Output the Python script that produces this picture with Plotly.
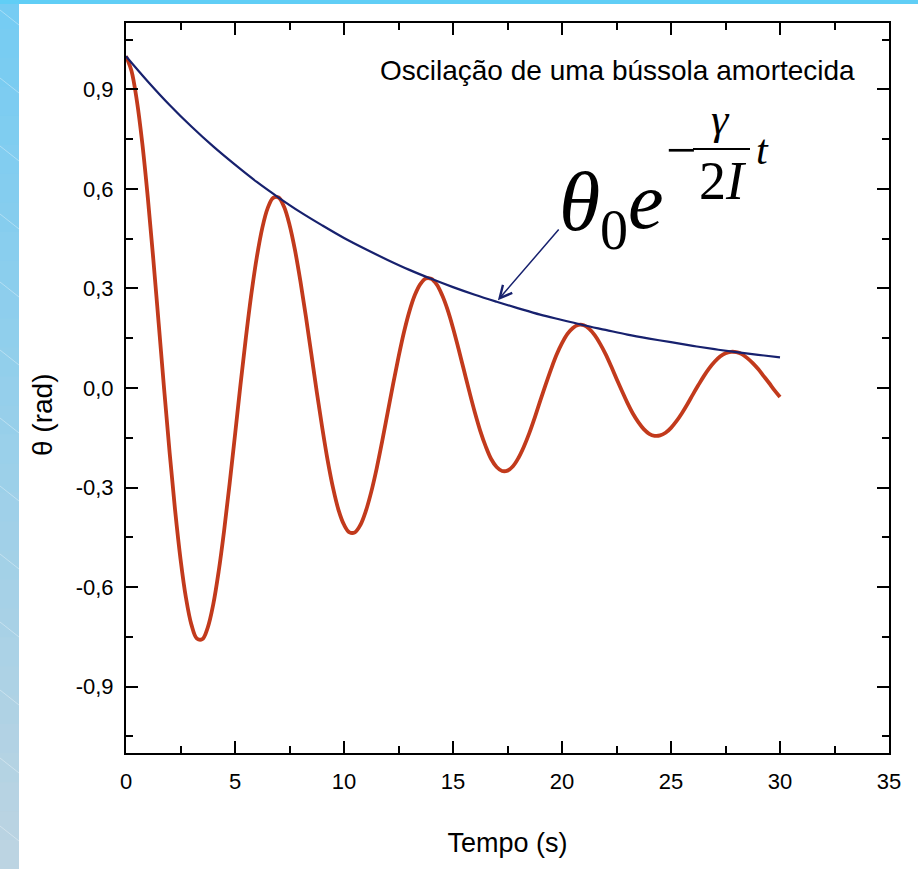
import plotly.graph_objects as go

# ---------------- data ----------------
t_osc = [0.0, 0.25, 0.5, 0.75, 1.0, 1.25, 1.5, 1.75, 2.0, 2.25, 2.5, 2.75, 3.0, 3.25, 3.5, 3.75,
         4.0, 4.25, 4.5, 4.75, 5.0, 5.25, 5.5, 5.75, 6.0, 6.25, 6.5, 6.75, 7.0, 7.25, 7.5, 7.75,
         8.0, 8.25, 8.5, 8.75, 9.0, 9.25, 9.5, 9.75, 10.0, 10.25, 10.5, 10.75, 11.0, 11.25,
         11.5, 11.75, 12.0, 12.25, 12.5, 12.75, 13.0, 13.25, 13.5, 13.75, 14.0, 14.25, 14.5,
         14.75, 15.0, 15.25, 15.5, 15.75, 16.0, 16.25, 16.5, 16.75, 17.0, 17.25, 17.5, 17.75,
         18.0, 18.25, 18.5, 18.75, 19.0, 19.25, 19.5, 19.75, 20.0, 20.25, 20.5, 20.75, 21.0,
         21.25, 21.5, 21.75, 22.0, 22.25, 22.5, 22.75, 23.0, 23.25, 23.5, 23.75, 24.0, 24.25,
         24.5, 24.75, 25.0, 25.25, 25.5, 25.75, 26.0, 26.25, 26.5, 26.75, 27.0, 27.25, 27.5,
         27.75, 28.0, 28.25, 28.5, 28.75, 29.0, 29.25, 29.5, 29.75, 30.0]
theta_osc = [1.000, 0.956, 0.865, 0.736, 0.574, 0.390, 0.194, -0.004, -0.194, -0.367, -0.515,
             -0.632, -0.713, -0.755, -0.757, -0.722, -0.653, -0.553, -0.430, -0.290, -0.142,
             0.009, 0.152, 0.283, 0.394, 0.482, 0.542, 0.573, 0.574, 0.546, 0.492, 0.416,
             0.322, 0.216, 0.103, -0.011, -0.119, -0.218, -0.302, -0.368, -0.412, -0.435,
             -0.435, -0.413, -0.371, -0.313, -0.242, -0.161, -0.075, 0.011, 0.093, 0.168,
             0.231, 0.280, 0.313, 0.330, 0.329, 0.312, 0.280, 0.236, 0.181, 0.119, 0.054,
             -0.011, -0.073, -0.129, -0.176, -0.214, -0.238, -0.250, -0.249, -0.236, -0.211,
             -0.177, -0.136, -0.089, -0.039, 0.010, 0.057, 0.100, 0.135, 0.163, 0.181, 0.190,
             0.189, 0.178, 0.159, 0.133, 0.102, 0.066, 0.028, -0.009, -0.045, -0.077, -0.103,
             -0.124, -0.138, -0.144, -0.143, -0.135, -0.120, -0.100, -0.076, -0.049, -0.020,
             0.008, 0.035, 0.059, 0.079, 0.095, 0.105, 0.109, 0.108, 0.102, 0.090, 0.075,
             0.057, 0.036, 0.015, -0.007, -0.027]

t_env = [0, 1, 2, 3, 4, 5, 6, 7, 8, 9, 10, 11, 12, 13, 14, 15, 16, 17, 18, 19, 20,
         21, 22, 23, 24, 25, 26, 27, 28, 29, 30]
theta_env = [1.000, 0.924, 0.853, 0.788, 0.728, 0.673, 0.621, 0.574, 0.530, 0.490, 0.452,
             0.418, 0.386, 0.356, 0.329, 0.304, 0.281, 0.260, 0.240, 0.221, 0.205,
             0.189, 0.175, 0.161, 0.149, 0.138, 0.127, 0.117, 0.108, 0.100, 0.0925]

x_ticks = [0, 5, 10, 15, 20, 25, 30, 35]
y_ticks = [-0.9, -0.6, -0.3, 0.0, 0.3, 0.6, 0.9]
y_ticklabels = ["-0,9", "-0,6", "-0,3", "0,0", "0,3", "0,6", "0,9"]

title_text = "Oscilação de uma bússola amortecida"
x_title = "Tempo (s)"
y_title = "θ (rad)"
arrow_index = 17  # envelope point the arrow points to

# ---------------- layout helpers ----------------
W, H = 918, 869
L, R, T, B = 126, 889, 23, 753


def px(x):
    return (x - L) / (R - L)


def py(y):
    return (B - y) / (B - T)


SANS = "Liberation Sans, Arial, sans-serif"
SERIF = "Liberation Serif, Times New Roman, serif"

fig = go.Figure()
fig.add_trace(go.Scatter(x=t_osc, y=theta_osc, mode="lines", line_shape="spline",
                         line=dict(color="#c23a1c", width=3.8), hoverinfo="skip"))
fig.add_trace(go.Scatter(x=t_env, y=theta_env, mode="lines", line_shape="spline",
                         line=dict(color="#17216e", width=2.2), hoverinfo="skip"))

shapes = []
# blue page background strips (left gradient)
n = 30
for i in range(n):
    f = i / (n - 1)
    r = int(118 + (188 - 118) * f)
    g = int(204 + (212 - 204) * f)
    b = int(243 + (226 - 243) * f)
    y0 = i * H / n
    y1 = (i + 1) * H / n
    shapes.append(dict(type="rect", xref="paper", yref="paper", layer="below",
                       x0=px(-2), x1=px(19), y0=py(y1 + 1), y1=py(y0),
                       fillcolor=f"rgb({r},{g},{b})", line=dict(width=0)))
# faint diagonal streaks on the blue page background
for k in range(13):
    y_start = 10 + k * 68
    shapes.append(dict(type="line", xref="paper", yref="paper", layer="below",
                       x0=px(0), x1=px(19), y0=py(y_start), y1=py(y_start + 15),
                       line=dict(color="rgba(255,255,255,0.35)", width=1)))
# top strip
shapes.append(dict(type="rect", xref="paper", yref="paper", layer="below",
                   x0=px(-2), x1=px(W + 2), y0=py(4), y1=py(-2),
                   fillcolor="rgb(96,206,246)", line=dict(width=0)))
# white panel
shapes.append(dict(type="rect", xref="paper", yref="paper", layer="below",
                   x0=px(19), x1=px(W + 5), y0=py(H + 5), y1=py(4),
                   fillcolor="white", line=dict(width=0)))
# fraction bar of the formula
shapes.append(dict(type="line", xref="paper", yref="paper",
                   x0=px(693), x1=px(750), y0=py(149), y1=py(149),
                   line=dict(color="black", width=2)))

# arrow tail offset in pixels from the tip
tip_px = L + t_env[arrow_index] * (R - L) / 35
tip_py = B - (theta_env[arrow_index] + 1.1) * (B - T) / 2.2


def formula_piece(text, x, y, size):
    return dict(text=text, x=px(x), y=py(y), xref="paper", yref="paper",
                xanchor="center", yanchor="middle", showarrow=False, borderpad=0,
                font=dict(family=SERIF, size=size, color="black"))


annotations = [
    dict(text=title_text, x=px(617), y=py(71), xref="paper", yref="paper",
         xanchor="center", yanchor="middle", showarrow=False,
         font=dict(family=SANS, size=28, color="black")),
    dict(text=y_title, x=px(42), y=py(415), xref="paper", yref="paper", textangle=-90,
         xanchor="center", yanchor="middle", showarrow=False,
         font=dict(family=SANS, size=28, color="black")),
    # formula pieces
    formula_piece("<i>θ</i>", 579, 201, 84),
    formula_piece("0", 614, 230, 56),
    formula_piece("<i>e</i>", 646, 201, 80),
    formula_piece("−", 681, 150, 54),
    formula_piece("<i>γ</i>", 720, 119, 44),
    formula_piece("2<i>I</i>", 723, 181, 54),
    formula_piece("<i>t</i>", 762, 150, 42),
    # arrow
    dict(text="", x=t_env[arrow_index], y=theta_env[arrow_index], xref="x", yref="y",
         ax=560 - tip_px, ay=228 - tip_py,
         showarrow=True, arrowhead=5, arrowsize=1.6, arrowwidth=1.5,
         arrowcolor="#17216e", standoff=2),
]

axis_common = dict(showline=True, linewidth=2, linecolor="black", mirror="ticks",
                   ticks="inside", ticklen=12, tickwidth=2, tickcolor="black",
                   showgrid=False, zeroline=False,
                   tickfont=dict(family=SANS, size=22, color="black"))

fig.update_layout(
    width=W, height=H,
    margin=dict(l=L, r=W - R, t=T, b=H - B),
    paper_bgcolor="white", plot_bgcolor="white",
    showlegend=False,
    shapes=shapes, annotations=annotations,
    xaxis=dict(range=[0, 35], tickvals=x_ticks, ticklabelstandoff=8,
               minor=dict(ticks="inside", ticklen=7, tickwidth=2, dtick=2.5, tick0=0,
                          tickcolor="black"),
               title=dict(text=x_title, standoff=40,
                          font=dict(family=SANS, size=27, color="black")),
               **axis_common),
    yaxis=dict(range=[-1.1, 1.1], tickvals=y_ticks, ticktext=y_ticklabels,
               ticklabelstandoff=6,
               minor=dict(ticks="inside", ticklen=7, tickwidth=2, dtick=0.15, tick0=0,
                          tickcolor="black"),
               **axis_common),
)

fig.write_html("out.html")
